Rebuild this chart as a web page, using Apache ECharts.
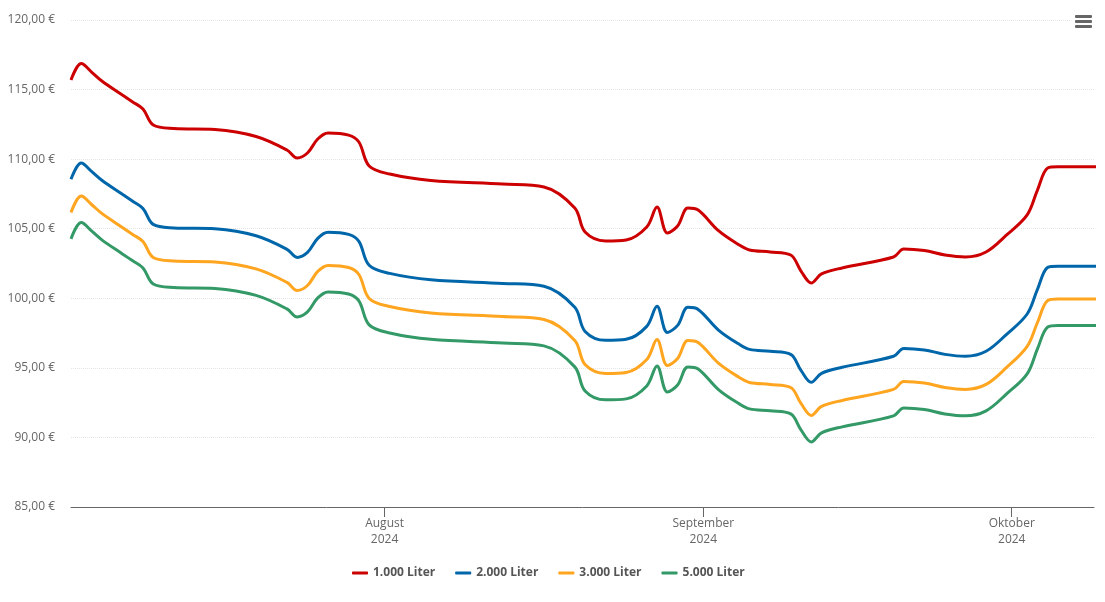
<!DOCTYPE html>
<html lang="de">
  <head>
    <meta charset="UTF-8" />
    <title>Heizölpreise</title>
    <script src="https://cdn.jsdelivr.net/npm/echarts@6/dist/echarts.min.js"></script>
    <style>
      html, body { margin: 0; padding: 0; background: #fff; }
      #main { width: 1105px; height: 602px; }
    </style>
  </head>
  <body>
    <div id="main"></div>
    <script>
      const days = [
        "2024-07-01","2024-07-02","2024-07-03","2024-07-04","2024-07-06","2024-07-07","2024-07-08","2024-07-09","2024-07-11","2024-07-15",
        "2024-07-19","2024-07-22","2024-07-23","2024-07-24","2024-07-25","2024-07-26","2024-07-28","2024-07-29","2024-07-30","2024-08-01","2024-08-05",
        "2024-08-12","2024-08-16","2024-08-19","2024-08-20","2024-08-22","2024-08-24","2024-08-26","2024-08-27","2024-08-28","2024-08-29",
        "2024-08-30","2024-08-31","2024-09-02","2024-09-04","2024-09-05","2024-09-07","2024-09-09","2024-09-10","2024-09-11","2024-09-12",
        "2024-09-14","2024-09-19","2024-09-20","2024-09-22","2024-09-24","2024-09-26","2024-09-28","2024-09-30","2024-10-02","2024-10-03","2024-10-04",
        "2024-10-05","2024-10-09"
      ];
      const liter1000 = [
        115.69,116.87,116.26,115.62,114.61,114.11,113.60,112.45,112.20,112.13,
        111.63,110.66,110.08,110.44,111.45,111.88,111.73,111.23,109.51,108.93,108.47,
        108.21,108.00,106.49,104.76,104.12,104.19,105.12,106.56,104.69,105.19,
        106.49,106.34,104.84,103.83,103.47,103.33,103.11,101.96,101.10,101.75,
        102.18,102.97,103.54,103.43,103.11,102.97,103.33,104.55,105.99,107.78,109.36,
        109.45,109.45
      ];
      const liter2000 = [
        108.55,109.73,109.12,108.48,107.47,106.97,106.46,105.31,105.06,104.99,
        104.49,103.52,102.94,103.30,104.31,104.74,104.59,104.09,102.37,101.79,101.33,
        101.07,100.86,99.35,97.62,96.98,97.05,97.98,99.42,97.55,98.05,
        99.35,99.20,97.70,96.69,96.33,96.19,95.97,94.82,93.96,94.61,
        95.04,95.83,96.40,96.29,95.97,95.83,96.19,97.41,98.87,100.64,102.22,
        102.31,102.31
      ];
      const liter3000 = [
        106.17,107.35,106.74,106.10,105.09,104.59,104.08,102.93,102.68,102.61,
        102.11,101.14,100.56,100.92,101.93,102.36,102.21,101.71,99.99,99.41,98.95,
        98.69,98.48,96.97,95.24,94.60,94.67,95.60,97.04,95.17,95.67,
        96.97,96.82,95.32,94.31,93.95,93.81,93.59,92.44,91.58,92.23,
        92.66,93.45,94.02,93.91,93.59,93.45,93.81,95.03,96.55,98.26,99.84,
        99.95,99.95
      ];
      const liter5000 = [
        104.27,105.45,104.84,104.20,103.19,102.69,102.18,101.03,100.78,100.71,
        100.21,99.24,98.66,99.02,100.03,100.46,100.31,99.81,98.09,97.51,97.05,
        96.79,96.58,95.07,93.34,92.70,92.77,93.70,95.14,93.27,93.77,
        95.07,94.92,93.42,92.41,92.05,91.91,91.69,90.54,89.68,90.33,
        90.76,91.55,92.12,92.01,91.69,91.55,91.91,93.13,94.57,96.36,97.94,
        98.05,98.05
      ];
      const seriesNames = ["1.000 Liter", "2.000 Liter", "3.000 Liter", "5.000 Liter"];
      const seriesColors = ["#cc0000", "#0066aa", "#ffa51f", "#339966"];
      const tickDays = ["2024-08-01", "2024-09-01", "2024-10-01"];
      const tickLabels = ["August\n2024", "September\n2024", "Oktober\n2024"];

      const fontName = "'Open Sans', 'Noto Sans', sans-serif";
      const tickTimes = tickDays.map((d) => new Date(d + "T00:00:00").getTime());
      // Tageswerte liegen jeweils auf 12 Uhr
      const pairs = (values) => values.map((v, i) => [new Date(days[i] + "T12:00:00").getTime(), v]);

      const chart = echarts.init(document.getElementById("main"), null, { renderer: "canvas" });
      chart.setOption({
        animation: false,
        color: seriesColors,
        grid: { left: 71, right: 11, top: 20, bottom: 95 },
        legend: {
          top: 562,
          left: 347,
          icon: "roundRect",
          itemWidth: 16,
          itemHeight: 3,
          itemGap: 20,
          textStyle: { fontFamily: fontName, fontSize: 12, fontWeight: "bold", color: "#555" },
          data: seriesNames
        },
        // Zeitachse als Werteachse, damit die Monatsticks frei gesetzt werden koennen
        xAxis: {
          type: "value",
          scale: true,
          min: new Date("2024-07-01T12:00:00").getTime(),
          max: new Date("2024-10-09T00:00:00").getTime(),
          axisLine: { lineStyle: { color: "#666", width: 1 } },
          axisTick: { length: 10, customValues: tickTimes, lineStyle: { color: "#666" } },
          axisLabel: {
            customValues: tickTimes,
            hideOverlap: false,
            fontFamily: fontName,
            fontSize: 12,
            lineHeight: 16,
            color: "#666",
            margin: 9,
            formatter: (value) => tickLabels[tickTimes.indexOf(value)] || ""
          },
          splitLine: { show: false }
        },
        yAxis: {
          type: "value",
          min: 85,
          max: 120,
          interval: 5,
          axisLine: { show: false },
          axisTick: { show: false },
          axisLabel: {
            fontFamily: fontName,
            fontSize: 12,
            color: "#666",
            margin: 16,
            padding: [4, 0, 0, 0],
            formatter: (value) => value.toFixed(2).replace(".", ",") + " €"
          },
          splitLine: { lineStyle: { color: "#e6e6e6", width: 1, type: "dotted" } }
        },
        series: [liter1000, liter2000, liter3000, liter5000].map((values, i) => ({
          name: seriesNames[i],
          type: "line",
          data: pairs(values),
          showSymbol: false,
          smooth: 0.35,
          lineStyle: { width: 3, color: seriesColors[i] }
        })),
        // Menue-Button oben rechts
        graphic: [
          { type: "rect", z: 100, left: 1070, top: 10, shape: { width: 27, height: 24 }, style: { fill: "#fff" } }
        ].concat([15, 20, 25].map((y) => ({
          type: "rect",
          z: 101,
          left: 1075,
          top: y,
          shape: { width: 17, height: 3, r: 1 },
          style: { fill: "#666" }
        })))
      });
    </script>
  </body>
</html>
